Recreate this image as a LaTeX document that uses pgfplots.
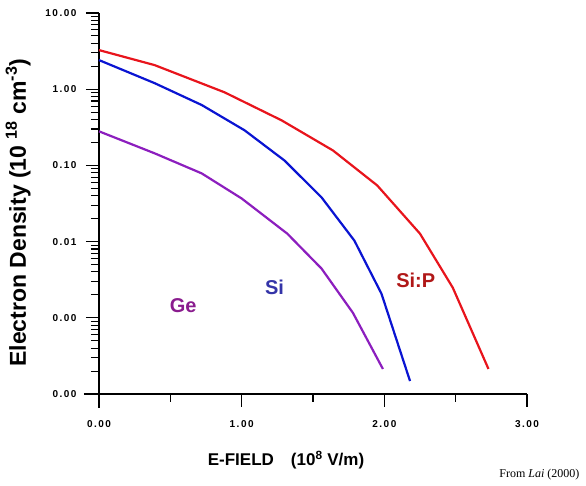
\documentclass[border=0pt]{standalone}
\usepackage{fontspec}
\setmainfont{Liberation Sans}
\newfontfamily\seriffont{Liberation Serif}
\usepackage{pgfplots}
\pgfplotsset{compat=1.18}

\definecolor{cRed}{HTML}{E8141C}
\definecolor{cBlue}{HTML}{0A14D2}
\definecolor{cPurple}{HTML}{8C1EBE}
\definecolor{tGe}{HTML}{8A1C8E}
\definecolor{tSi}{HTML}{3434A8}
\definecolor{tSiP}{HTML}{B01818}

\newcommand{\tickfont}{\fontsize{10}{10}\selectfont\bfseries\addfontfeature{LetterSpace=15}}

\begin{document}
\begin{tikzpicture}
\useasboundingbox (0,0) rectangle (586pt,486pt);
\begin{axis}[
  at={(99pt,92pt)}, anchor=south west,
  scale only axis, width=428pt, height=381pt,
  ymode=log, log basis y=10,
  xmin=0, xmax=3, ymin=1e-4, ymax=10,
  axis lines=left,
  x axis line style={-, line width=1.4pt, shorten <=-15pt},
  y axis line style={-, line width=1.4pt, shorten <=-14pt},
  tick align=outside,
  major tick length=13pt, minor tick length=8pt,
  every tick/.style={black, line width=1.1pt},
  xtick={0,1,2,3},
  xticklabels={0.00,1.00,2.00,3.00},
  minor xtick={0.5,1.5,2.5},
  ytick={1e-4,1e-3,1e-2,1e-1,1,10},
  yticklabels={0.00,0.00,0.01,0.10,1.00,10.00},
  minor ytick={2e-4,3e-4,4e-4,5e-4,6e-4,7e-4,8e-4,9e-4,
    2e-3,3e-3,4e-3,5e-3,6e-3,7e-3,8e-3,9e-3,
    0.02,0.03,0.04,0.05,0.06,0.07,0.08,0.09,
    0.2,0.3,0.4,0.5,0.6,0.7,0.8,0.9,
    2,3,4,5,6,7,8,9},
  ticklabel style={font=\tickfont},
  xticklabel style={yshift=-10pt},
  yticklabel style={xshift=-6pt},
  xlabel={E-FIELD\quad (10\textsuperscript{8} V/m)},
  ylabel={Electron Density (10 \textsuperscript{18} cm\textsuperscript{-3})},
  xlabel style={font=\fontsize{17}{17}\selectfont\bfseries,
    at={(axis description cs:0.437,-0.173)}, anchor=center},
  ylabel style={font=\fontsize{23}{23}\selectfont\bfseries,
    at={(axis description cs:-0.189,0.476)}, anchor=center},
  clip=false,
]
\addplot[cRed, line width=2.2pt] coordinates {
  (0,3.26) (0.39,2.07) (0.88,0.91) (1.28,0.39) (1.64,0.157)
  (1.95,0.0546) (2.25,0.0127) (2.48,0.00248) (2.73,0.000213)};
\addplot[cBlue, line width=2.2pt] coordinates {
  (0,2.41) (0.39,1.2) (0.72,0.62) (1.02,0.289) (1.30,0.116)
  (1.56,0.038) (1.79,0.0103) (1.98,0.00207) (2.18,0.000148)};
\addplot[cPurple, line width=2.2pt] coordinates {
  (0,0.28) (0.39,0.144) (0.72,0.0785) (1.00,0.0368) (1.32,0.0127)
  (1.56,0.00442) (1.78,0.00116) (1.99,0.000213)};
\node[tGe, font=\fontsize{20}{20}\selectfont\bfseries] at (axis cs:0.59,0.00144) {Ge};
\node[tSi, font=\fontsize{20}{20}\selectfont\bfseries] at (axis cs:1.23,0.00248) {Si};
\node[tSiP, font=\fontsize{20}{20}\selectfont\bfseries] at (axis cs:2.22,0.0031) {Si:P};
\end{axis}
\node[anchor=base east, font=\seriffont\fontsize{12}{12}\selectfont] at (583pt,8pt) {From \textit{Lai} (2000)};
\end{tikzpicture}
\end{document}
